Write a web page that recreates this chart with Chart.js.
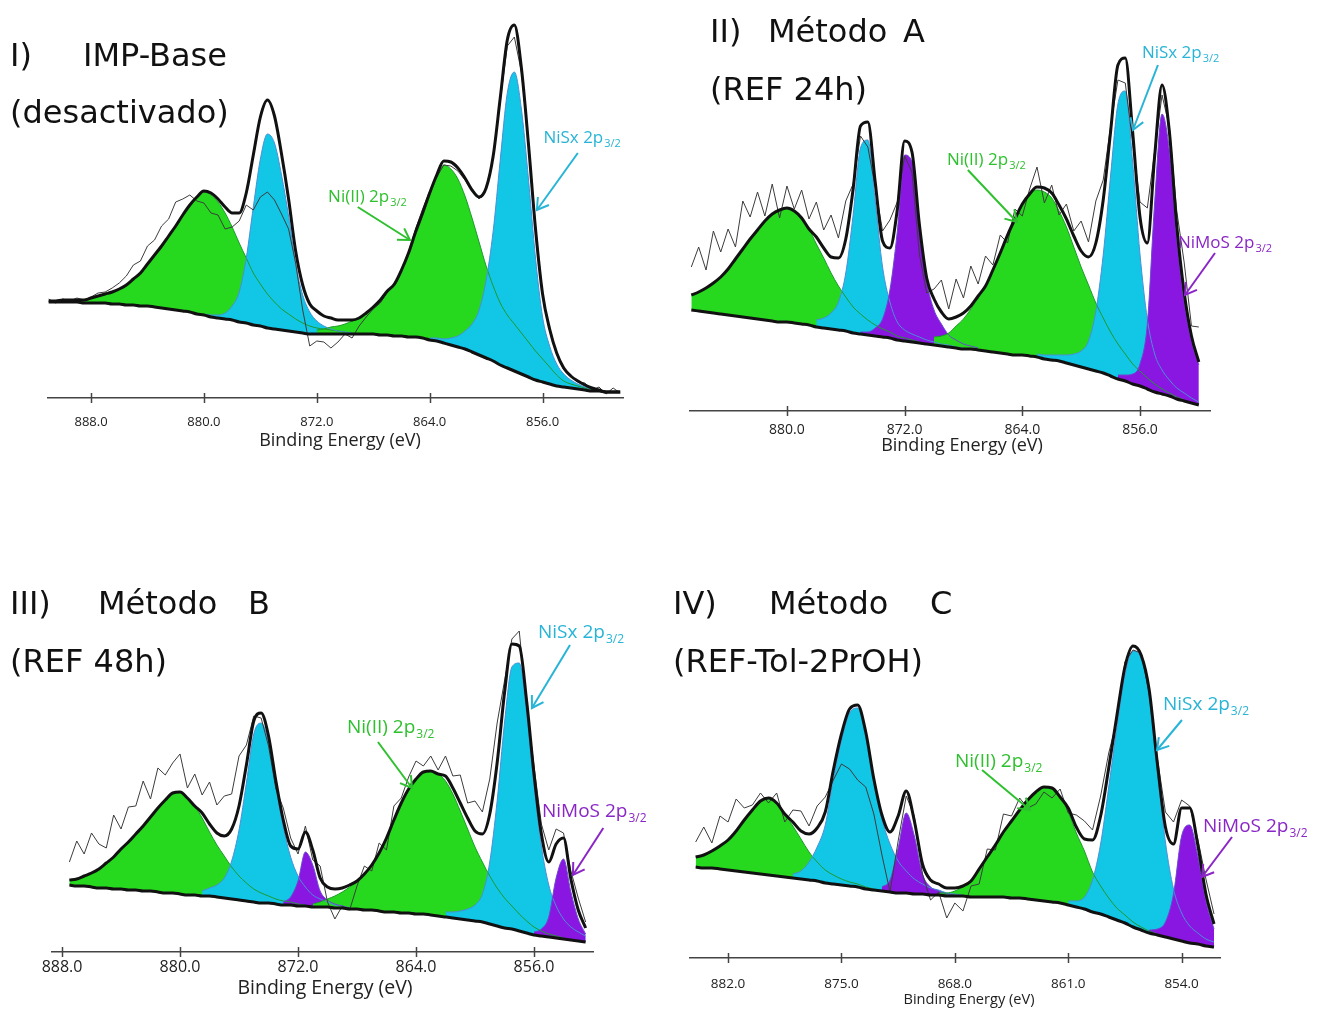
<!DOCTYPE html>
<html><head><meta charset="utf-8">
<script src="https://cdn.jsdelivr.net/npm/chart.js@4.4.1/dist/chart.umd.min.js"></script>
<style>
html,body{margin:0;padding:0;background:#fff;}
body{width:1325px;height:1010px;position:relative;overflow:hidden;}
canvas{position:absolute;}
.t{position:absolute;font-family:Verdana,"DejaVu Sans",sans-serif;font-size:32px;line-height:36px;color:#111;white-space:pre;z-index:5;}
</style></head><body>
<script>
// ---------------- DATA (binding energy in eV, intensity in arbitrary units) ----------------
// Panel I : IMP-Base (desactivado)
const p1Grid = {from: 891.0, to: 850.5, step: 0.5};
const p1Ticks = [888, 880, 872, 864, 856];
const p1Baseline = [96,96,96,96,96,95,95,95,95,94, 94,93,93,92,92,91,90,89,88,87, 86,84,83,81,80,79,78,76,75,73,
  72,70,69,68,67,66,65,64,64,64, 64,64,64,64,64,64,64,63,63,62, 62,61,61,60,58,57,55,53,51,49,
  46,43,40,37,33,30,27,24,21,18, 16,14,12,11,10,9,8,7,7,6, 6,6];
const p1NiII_a = [1,1,2,2,2,3,5,7,9,12, 15,20,26,33,42,52,62,73,84,96, 107,117,123,122,116,106,93,79,65,52, 42,34,27,21,17,13,10,8,6,5, 4,3,2];
const p1NiSx_a = [1,2,3,6,14,30,65,118,167,194, 186,155,115,68,38,22,13,8,5,3, 2,1];
const p1NiII_b = [4,5,7,8,10,13,16,21,27,35, 44,52,66,84,105,125,145,163,178,176, 168,153,134,113,92,75,62,53,47,41, 35,29,23,17,11,6,4,3,2,1];
const p1NiSx_b = [2,3,4,7,11,18,28,45,78,130, 205,275,299,265,198,122,65,38,22,13, 8,5,3,2,1];
const p1Start = {NiII_a: 891.0, NiSx_a: 880.0, NiII_b: 872.0, NiSx_b: 864.0};
const p1Residual = [2,-2,1,-1,2,0,1,3,2,4, 6,9,14,12,18,15,20,17,24,16, 10,-4,-12,-20,-16,-22,-14,-8,-12,-55,
  -80,-92,-84,-60,-30,-12,-25,-42,-30,-26, -30,-22,-14,-18,-8,-4,-2,-3,-1,-2, -2,1,3,4,2,-2,-4,-4,-3,-2,
  -1,-2,0,-2,-3,-6,-12,-4,3,2, 0,-2,-1,-2,0,-1,2,-2,3,-2, 4,-1];

// Panel II : Método A (REF 24h)
const p2Grid = {from: 886.5, to: 852.0, step: 0.5};
const p2Ticks = [880, 872, 864, 856];
const p2Baseline = [101,100,99,98,97,96,95,94,93,92, 91,90,89,89,88,87,86,84,83,82, 81,80,78,77,76,75,74,73,71,70,
  69,68,67,66,65,64,63,62,62,61, 60,59,58,57,56,56,55,54,52,51, 50,48,46,44,42,40,38,35,32,30,
  27,25,22,19,17,15,12,10,8,6];
const p2NiII_a = [15,19,24,30,37,46,57,68,79,89, 99,107,112,114,112,106,96,83,70,56, 44,34,26,20,15,11,8,6,4,3, 2,1];
const p2NiSx_a = [7,10,16,28,58,118,186,195,135,70, 36,18,11,8,6,4,3,2,2,1, 1];
const p2NiMoS_a = [2,3,8,18,48,108,186,180,112,62, 35,22,12,8,5,3,2];
const p2NiII_b = [8,10,14,22,30,40,52,65,82,100, 119,136,151,162,167,167,162,150,136,118, 100,84,68,55,44,35,27,20,15,11, 8,5,3,2,1];
const p2NiSx_b = [3,4,5,6,8,11,16,28,60,118, 200,275,290,222,132,70,38,24,16,11, 8,5,3];
const p2NiMoS_b = [4,6,10,22,65,190,280,245,160,100, 62,40];
const p2Start = {NiII_a: 886.5, NiSx_a: 878.0, NiMoS_a: 875.0, NiII_b: 870.0, NiSx_b: 863.0, NiMoS_b: 857.5};
const p2Residual = [28,45,18,52,25,40,12,48,22,38, 5,30,-8,22,2,28,10,35,18,42, 20,38,5,-10,-25,-5,10,28,8,-15,
  -20,-30,-15,10,32,10,38,15,40,12, 30,5,18,-8,10,-12,5,20,-15,8, -10,15,5,30,15,42,20,5,-15,-25,
  -10,15,35,5,-10,5,15,30,10,35];

// Panel III : Método B (REF 48h)
const p3Grid = {from: 887.5, to: 852.5, step: 0.5};
const p3Ticks = [888, 880, 872, 864, 856];
const p3Baseline = [67,66,66,65,64,64,63,63,62,62, 61,61,60,59,59,58,57,57,56,56, 55,54,53,52,51,50,49,49,48,47,
  47,46,46,45,45,45,44,44,43,43, 42,42,41,40,40,39,39,38,38,37, 36,35,34,33,32,31,30,28,26,24,
  23,21,19,17,16,15,14,13,12,11, 10];
const p3NiII_a = [5,7,10,14,19,25,32,40,48,56, 65,74,84,93,100,102,97,89,78,64, 52,42,32,24,18,13,10,7,5,4, 3,2,1];
const p3NiSx_a = [5,8,12,20,38,70,118,168,180,160, 118,78,48,30,19,12,8,5,3,2, 1];
const p3NiMoS_a = [3,8,25,54,42,16,7,4,2,1];
const p3NiII_b = [3,5,8,12,16,22,28,36,45,58, 74,92,110,124,135,142,144,142,136,124, 108,91,74,60,48,38,30,23,17,12, 8,5,3,2,1];
const p3NiSx_b = [5,6,8,11,16,28,62,125,205,262, 268,220,150,90,52,32,20,13,9,6];
const p3NiMoS_b = [3,7,20,60,80,48,22,8];
const p3Start = {NiII_a: 887.5, NiSx_a: 878.5, NiMoS_a: 873.0, NiII_b: 871.0, NiSx_b: 862.0, NiMoS_b: 856.0};
const p3Residual = [18,38,22,40,25,15,42,20,35,28, 45,18,40,25,30,38,10,32,18,42, 28,40,35,50,20,5,-5,-10,-8,12,
  8,-5,6,-10,12,-15,-30,-18,-25,-5, 8,-6,10,-12,14,5,12,18,6,15, 4,20,12,28,15,30,22,35,40,12,
  5,15,-5,8,10,12,15,5,8,12, 6];

// Panel IV : Método C (REF-Tol-2PrOH)
const p4Grid = {from: 884.0, to: 852.0, step: 0.5};
const p4Ticks = [882, 875, 868, 861, 854];
const p4Baseline = [91,90,90,89,88,87,86,85,84,83, 82,81,80,79,78,77,75,74,73,72, 71,69,68,67,66,65,65,64,64,63,
  63,62,62,62,61,61,61,61,61,60, 60,59,58,57,56,55,53,51,49,46, 44,41,38,35,31,28,25,23,21,19,
  17,15,14,12,11];
const p4NiII_a = [10,13,17,23,30,40,52,63,73,77, 73,63,52,40,28,19,13,9,6,4, 3,2,1];
const p4NiSx_a = [4,8,18,34,58,105,145,173,179,155, 110,72,48,32,22,15,10,7,5,3, 2,1];
const p4NiMoS_a = [4,12,45,80,58,20,8,4,2,1];
const p4NiII_b = [2,3,5,9,16,28,40,52,65,77, 88,99,108,114,114,106,93,74,58,40, 28,19,12,8,5,3,2,1];
const p4NiSx_b = [4,6,12,32,70,130,192,248,276,272, 238,165,95,50,28,17,11,7,5];
const p4NiMoS_b = [3,6,15,45,105,118,88,45,18];
const p4Start = {NiII_a: 884.0, NiSx_a: 878.0, NiMoS_a: 872.5, NiII_b: 869.0, NiSx_b: 861.0, NiMoS_b: 856.0};
const p4Residual = [15,28,8,30,18,32,12,5,8,-5, 10,-8,12,20,8,22,15,-10,-30,-60, -75,-55,-35,-40,-60,-25,-5,5,-10,-20,
  -8,-30,-15,-25,-5,-15,8,-5,18,5, 12,-8,-12,-5,-10,8,-5,12,18,10, 20,15,-5,5,-4,2,-3,5,15,22,
  8,2,6,15,10];

// Peak labels: [text, subscript, label E, label I, arrow from E, from I, arrow to E, to I, kind]
const p1Labels = [
  ['NiSx 2p', '3/2', 855.94, 260, 853.5, 245, 856.4, 188, 'cyan'],
  ['Ni(II) 2p', '3/2', 871.2, 201, 869.1, 191, 865.4, 158, 'green']
];
const p2Labels = [
  ['NiSx 2p', '3/2', 855.87, 358, 854.78, 346, 856.48, 281, 'cyan'],
  ['Ni(II) 2p', '3/2', 869.12, 251, 867.7, 241, 864.36, 189, 'green'],
  ['NiMoS 2p', '3/2', 853.42, 168, 850.9, 158, 852.94, 116, 'purple']
];
const p3Labels = [
  ['NiSx 2p', '3/2', 855.73, 319, 853.56, 307, 856.14, 244, 'cyan'],
  ['Ni(II) 2p', '3/2', 868.68, 224, 866.58, 210, 864.27, 164, 'green'],
  ['NiMoS 2p', '3/2', 855.46, 140, 851.3, 124, 853.36, 77, 'purple']
];
const p4Labels = [
  ['NiSx 2p', '3/2', 855.15, 253, 853.98, 238, 855.52, 208, 'cyan'],
  ['Ni(II) 2p', '3/2', 867.99, 196, 866.32, 188, 863.36, 148, 'green'],
  ['NiMoS 2p', '3/2', 852.68, 131, 850.89, 121, 852.74, 81, 'purple']
];
const axisTitle = 'Binding Energy (eV)';

const titleWords = [
  ['I)', 10, 55], ['IMP-Base', 83, 55], ['(desactivado)', 10, 112],
  ['II)', 710, 31], ['Método', 768, 31], ['A', 903, 31], ['(REF 24h)', 710, 89],
  ['III)', 10, 603], ['Método', 98, 603], ['B', 248, 603], ['(REF 48h)', 10, 661],
  ['IV)', 673, 603], ['Método', 769, 603], ['C', 930, 603], ['(REF-Tol-2PrOH)', 673, 661]
];

// ---------------- STYLE / LAYOUT ----------------
const COLORS = {
  green:  {fill: '#26d91e', line: '#1c9a2c', text: '#2fc02f'},
  cyan:   {fill: '#12c6e6', line: '#4a8fd8', text: '#27b4d6'},
  purple: {fill: '#8a16e2', line: '#6a4ad0', text: '#8a26c6'}
};
const PANELS = [
  {grid: p1Grid, ticks: p1Ticks, base: p1Baseline, res: p1Residual, labels: p1Labels,
   comps: [['green', p1Start.NiII_a, p1NiII_a], ['cyan', p1Start.NiSx_a, p1NiSx_a], ['green', p1Start.NiII_b, p1NiII_b], ['cyan', p1Start.NiSx_b, p1NiSx_b]],
   xMin: 850.3, xMax: 891.05,
   L: {left: 0, top: 0, W: 660, H: 470, aL: 48, aR: 623, aT: 20, aB: 398, axisH: 56, titleX: 340, titleY: 441},
   tickFont: 13, tickPad: 16, titleFont: 18, labFont: 17},
  {grid: p2Grid, ticks: p2Ticks, base: p2Baseline, res: p2Residual, labels: p2Labels,
   comps: [['green', p2Start.NiII_a, p2NiII_a], ['cyan', p2Start.NiSx_a, p2NiSx_a], ['purple', p2Start.NiMoS_a, p2NiMoS_a],
           ['green', p2Start.NiII_b, p2NiII_b], ['cyan', p2Start.NiSx_b, p2NiSx_b], ['purple', p2Start.NiMoS_b, p2NiMoS_b]],
   xMin: 851.24, xMax: 886.59,
   L: {left: 660, top: 0, W: 665, H: 470, aL: 30, aR: 550, aT: 20, aB: 411, axisH: 50, titleX: 962, titleY: 446},
   tickFont: 14, tickPad: 10.6, titleFont: 18, labFont: 17},
  {grid: p3Grid, ticks: p3Ticks, base: p3Baseline, res: p3Residual, labels: p3Labels,
   comps: [['green', p3Start.NiII_a, p3NiII_a], ['cyan', p3Start.NiSx_a, p3NiSx_a], ['purple', p3Start.NiMoS_a, p3NiMoS_a],
           ['green', p3Start.NiII_b, p3NiII_b], ['cyan', p3Start.NiSx_b, p3NiSx_b], ['purple', p3Start.NiMoS_b, p3NiMoS_b]],
   xMin: 852.0, xMax: 888.68,
   L: {left: 0, top: 560, W: 660, H: 450, aL: 52, aR: 593, aT: 40, aB: 392, axisH: 50, titleX: 325, titleY: 988},
   tickFont: 16, tickPad: 5.4, titleFont: 19.5, labFont: 19},
  {grid: p4Grid, ticks: p4Ticks, base: p4Baseline, res: p4Residual, labels: p4Labels,
   comps: [['green', p4Start.NiII_a, p4NiII_a], ['cyan', p4Start.NiSx_a, p4NiSx_a], ['purple', p4Start.NiMoS_a, p4NiMoS_a],
           ['green', p4Start.NiII_b, p4NiII_b], ['cyan', p4Start.NiSx_b, p4NiSx_b], ['purple', p4Start.NiMoS_b, p4NiMoS_b]],
   xMin: 851.63, xMax: 884.35,
   L: {left: 660, top: 560, W: 665, H: 450, aL: 30, aR: 560, aT: 60, aB: 398, axisH: 50, titleX: 969, titleY: 1000},
   tickFont: 13.5, tickPad: 17.9, titleFont: 14.6, labFont: 19}
];

// ---------------- BUILD ----------------
function energyGrid(g) {
  const n = Math.round((g.from - g.to) / g.step) + 1;
  const out = [];
  for (let i = 0; i < n; i++) out.push(+(g.from - i * g.step).toFixed(2));
  return out;
}

titleWords.forEach(([t, x, y]) => {
  const d = document.createElement('div');
  d.className = 't'; d.textContent = t;
  d.style.left = x + 'px'; d.style.top = (y - 18) + 'px';
  document.body.appendChild(d);
});

Chart.defaults.font.family = "'Open Sans', 'Noto Sans', sans-serif";

PANELS.forEach(P => {
  const E = energyGrid(P.grid);
  const n = E.length;
  const sum = new Array(n).fill(0);
  const ds = [];
  const baseIdx = P.comps.length + 1;
  P.comps.forEach(([kind, from, h]) => {
    const i0 = Math.round((P.grid.from - from) / P.grid.step);
    const pts = E.map((e, i) => {
      const k = i - i0;
      if (k < 0 || k >= h.length) return {x: e, y: null};
      sum[i] += h[k];
      return {x: e, y: P.base[i] + h[k]};
    });
    ds.push({data: pts, backgroundColor: COLORS[kind].fill, borderColor: COLORS[kind].line, borderWidth: 1,
      fill: {target: baseIdx}, cubicInterpolationMode: 'monotone', pointRadius: 0, spanGaps: false});
  });
  ds.push({data: E.map((e, i) => ({x: e, y: P.base[i] + sum[i] + (P.res[i] || 0)})),
    borderColor: '#3c3c3c', borderWidth: 1, fill: false, tension: 0, pointRadius: 0});
  ds.push({data: E.map((e, i) => ({x: e, y: P.base[i]})),
    borderColor: '#111', borderWidth: 3, fill: false, cubicInterpolationMode: 'monotone', pointRadius: 0});
  ds.push({data: E.map((e, i) => ({x: e, y: P.base[i] + sum[i]})),
    borderColor: '#111', borderWidth: 3, fill: false, cubicInterpolationMode: 'monotone', pointRadius: 0});
  ds.forEach((d, i) => { d.order = ds.length - i; });

  const L = P.L;
  const yMax = L.aB - L.aT;
  const cv = document.createElement('canvas');
  cv.width = L.W; cv.height = L.H;
  cv.style.left = L.left + 'px'; cv.style.top = L.top + 'px';
  document.body.appendChild(cv);

  const overlay = {
    id: 'overlay',
    afterDraw(chart) {
      const ctx = chart.ctx, xs = chart.scales.x, ys = chart.scales.y;
      const bottom = chart.chartArea.bottom;
      ctx.save();
      ctx.strokeStyle = '#444'; ctx.lineWidth = 1.5;
      P.ticks.forEach(t => {
        const px = Math.round(xs.getPixelForValue(t)) + 0.5;
        ctx.beginPath(); ctx.moveTo(px, bottom - 5); ctx.lineTo(px, bottom + 5); ctx.stroke();
      });
      // axis title
      ctx.fillStyle = '#222'; ctx.textAlign = 'center'; ctx.textBaseline = 'middle';
      ctx.font = P.titleFont + "px 'Open Sans', sans-serif";
      ctx.fillText(axisTitle, L.titleX - L.left, L.titleY - L.top);
      // peak labels with arrows
      P.labels.forEach(([txt, sub, le, li, fe, fi, te, ti, kind]) => {
        const col = COLORS[kind].text;
        const lx = xs.getPixelForValue(le), ly = ys.getPixelForValue(li);
        ctx.fillStyle = col; ctx.textBaseline = 'middle'; ctx.textAlign = 'left';
        ctx.font = P.labFont + "px 'Open Sans', sans-serif";
        ctx.fillText(txt, lx, ly);
        const w = ctx.measureText(txt).width;
        const sf = Math.round(P.labFont * 0.62);
        ctx.font = sf + "px 'Open Sans', sans-serif";
        ctx.fillText(sub, lx + w + 1, ly + P.labFont * 0.32);
        const x0 = xs.getPixelForValue(fe), y0 = ys.getPixelForValue(fi);
        const x1 = xs.getPixelForValue(te), y1 = ys.getPixelForValue(ti);
        ctx.strokeStyle = col; ctx.lineWidth = 2;
        ctx.beginPath(); ctx.moveTo(x0, y0); ctx.lineTo(x1, y1); ctx.stroke();
        const a = Math.atan2(y1 - y0, x1 - x0), hl = 13;
        ctx.beginPath();
        ctx.moveTo(x1 - hl * Math.cos(a - 0.55), y1 - hl * Math.sin(a - 0.55));
        ctx.lineTo(x1, y1);
        ctx.lineTo(x1 - hl * Math.cos(a + 0.55), y1 - hl * Math.sin(a + 0.55));
        ctx.stroke();
      });
      ctx.restore();
    }
  };

  new Chart(cv, {
    type: 'line',
    data: {datasets: ds},
    options: {
      responsive: false, animation: false, devicePixelRatio: 1,
      layout: {autoPadding: false, padding: {left: L.aL, right: L.W - L.aR, top: L.aT, bottom: L.H - L.aB - L.axisH}},
      plugins: {legend: {display: false}, tooltip: {enabled: false}, filler: {drawTime: 'beforeDatasetsDraw', propagate: false}},
      elements: {point: {radius: 0}},
      scales: {
        x: {
          type: 'linear', reverse: true, min: P.xMin, max: P.xMax,
          afterBuildTicks: s => { s.ticks = P.ticks.map(v => ({value: v})); },
          afterFit: s => { s.height = L.axisH; },
          ticks: {callback: v => Number(v).toFixed(1), color: '#222', padding: P.tickPad, maxRotation: 0, autoSkip: false,
                  font: {size: P.tickFont}},
          grid: {display: true, drawOnChartArea: false, drawTicks: false},
          border: {display: true, color: '#444', width: 1.5},
          title: {display: false}
        },
        y: {display: false, min: 0, max: yMax}
      }
    },
    plugins: [overlay]
  });
});
</script>
</body></html>
